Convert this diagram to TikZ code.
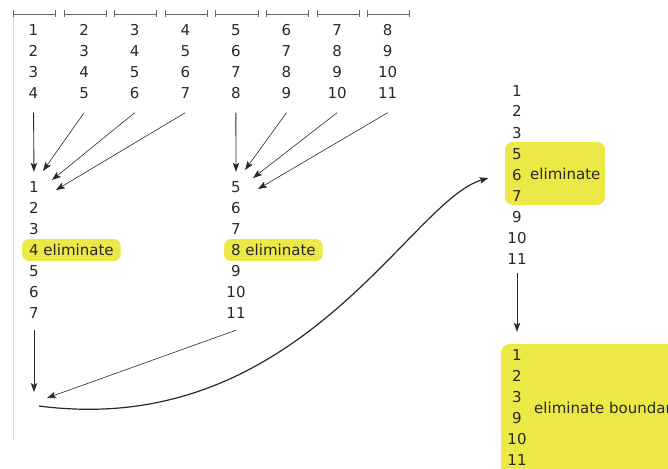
\documentclass[tikz,border=0pt]{standalone}
\usepackage{fontspec}
\setmainfont{DejaVu Sans}
\usetikzlibrary{arrows.meta}
\definecolor{hlyellow}{RGB}{236,232,70}
\definecolor{ink}{RGB}{40,40,40}

\begin{document}
\begin{tikzpicture}[
    x=1pt, y=-1pt,
    font=\fontsize{15pt}{18pt}\selectfont,
    >={Stealth[length=9pt, width=6.5pt, inset=2pt]},
    num/.style={inner sep=0pt, text height=11pt, text depth=0pt, text=ink},
    hl/.style={
        fill=hlyellow, rounded corners=7pt,
        inner xsep=7pt, inner ysep=5.5pt,
        text height=11pt, text depth=0pt, text=ink,
    },
    win/.style={draw=gray!80!black, line width=0.8pt, {Bar[width=7pt]}-{Bar[width=7pt]}},
    arr/.style={->, line width=0.9pt, ink},
    slant/.style={->, line width=0.6pt, ink},
]
\useasboundingbox (0,0) rectangle (668,468);
\clip (0,0) rectangle (668,468);

% --- Windows over the sequence ------------------------------
\draw[gray!25, line width=1pt] (13,14) -- (13,440);
\foreach \i in {1,...,8} {
    \pgfmathsetmacro{\xc}{33.5+50.6*(\i-1)}
    \draw[win] (\xc-20.5,14) -- (\xc+22.5,14);
    \foreach \j in {0,...,3} {
        \pgfmathtruncatemacro{\v}{\i+\j}
        \node[num] (t\i-\j) at (\xc,30+21*\j) {\v};
    }
}

% --- First merged list --------------------------------------
\foreach \v/\r in {1/0,2/1,3/2,5/4,6/5,7/6}
    \node[num] (a\v) at (34,187+21*\r) {\v};
\node[hl, anchor=west] (a4) at (22,250) {4 eliminate};

% --- Second merged list -------------------------------------
\foreach \v/\r in {5/0,6/1,7/2,9/4,10/5,11/6}
    \node[num] (b\v) at (236,187+21*\r) {\v};
\node[hl, anchor=west] (b8) at (224,250) {8 eliminate};

% --- Arrows into the merged lists ---------------------------
\coordinate (inA2) at (43,171);
\coordinate (inA3) at (52,180);
\coordinate (inA4) at (56,190);
\coordinate (inB6) at (245,170);
\coordinate (inB7) at (253,178);
\coordinate (inB8) at (258,189);
\draw[arr, shorten <=14pt, shorten >=9.5pt] (t1-3) -- (a1);
\draw[arr, shorten <=14pt, shorten >=9.5pt] (t5-3) -- (b5);
\foreach \i in {2,3,4}
    \draw[slant] ([yshift=-14pt]t\i-3.south) -- (inA\i);
\foreach \i in {6,7,8}
    \draw[slant] ([yshift=-14pt]t\i-3.south) -- (inB\i);

% --- Join of both lists -------------------------------------
\coordinate (sinkA) at (34,392);
\coordinate (sinkB) at (47,398);
\coordinate (join) at (39,406);
\draw[arr, shorten <=11.5pt] (a7) -- (sinkA);
\draw[slant] ([yshift=-11.5pt]b11.south) -- (sinkB);

% --- Combined list ------------------------------------------
\node[hl, minimum width=100pt, minimum height=63pt, inner sep=0pt, rounded corners=8pt]
    (cbox) at (555,173.5) {};
\foreach \v/\r in {1/0,2/1,3/2,5/3,6/4,7/5,9/6,10/7,11/8}
    \node[num] (c\v) at (517,90.5+21*\r) {\v};
\node[num, anchor=west] (celim) at (530,174) {eliminate};

\draw[->, line width=1.2pt, ink, shorten >=17pt]
    (join) .. controls (300,440) and (410,200) .. (cbox.west);

% --- Boundary step ------------------------------------------
\node[hl, anchor=north west, minimum width=250pt, minimum height=160pt, rounded corners=8pt]
    (dbox) at (501,344) {};
\foreach \v/\r in {1/0,2/1,3/2,9/3,10/4,11/5}
    \node[num] (d\v) at (517,355+21*\r) {\v};
\node[num, anchor=west] (delim) at (534,407.5) {eliminate boundary};

\draw[arr, shorten <=8.5pt, shorten >=17.5pt] (c11) -- (d1);

\end{tikzpicture}
\end{document}
